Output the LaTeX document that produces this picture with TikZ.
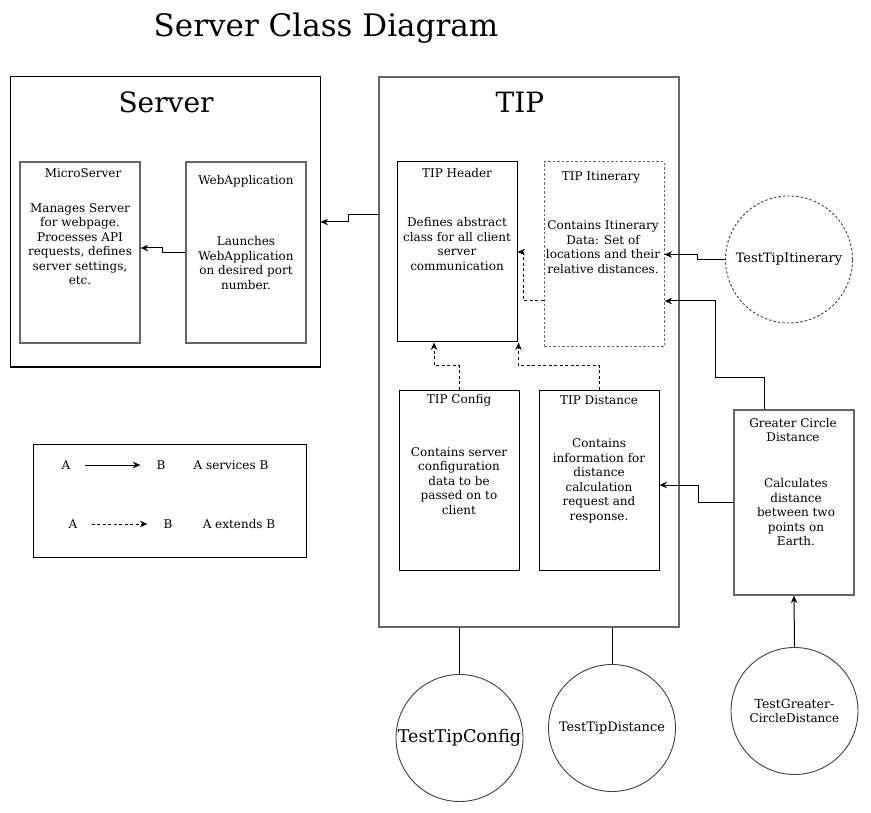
\documentclass[tikz,border=0pt]{standalone}
\usepackage{fontspec}
\setmainfont{DejaVu Serif}
\usetikzlibrary{arrows.meta,calc}
\begin{document}
\begin{tikzpicture}[x=1pt,y=-1pt,
  every node/.style={font=\fontsize{12}{14.5}\selectfont, inner sep=0pt},
  box/.style={draw=black, line width=1pt, minimum width=120pt},
  gbox/.style={draw=black!60, line width=1.2pt, minimum width=120pt},
  dbox/.style={draw=black!60, line width=1pt, dash pattern=on 2.5pt off 2pt, minimum width=120pt},
  circ/.style={draw=black!75, line width=0.9pt, circle, minimum size=127pt, align=center},
  body/.style={align=center, font=\fontsize{12}{14.5}\selectfont},
  bigt/.style={font=\fontsize{28}{33}\selectfont},
  arr/.style={line width=1pt, -{Stealth[length=7.5pt,width=6.5pt]}},
  darr/.style={line width=1pt, dash pattern=on 3pt off 2.5pt, -{Stealth[length=7.5pt,width=6.5pt]}},
  conn/.style={line width=1pt}]
\useasboundingbox (0,0) rectangle (871,813);
\fill[white] (0,0) rectangle (871,813);

% title
\node[font=\fontsize{31}{36}\selectfont] (title) at (326,28) {Server Class Diagram};

% Server group
\node[draw=black, line width=1pt, minimum width=310pt, minimum height=290pt] (server) at (165,222) {};
\node[bigt] (serverT) at (166,102) {Server};
\node[gbox, minimum height=181pt] (micro) at (80,252.5) {};
\node (microT) at (83,173) {MicroServer};
\node[body] (microB) at (80,244) {Manages Server\\for webpage.\\Processes API\\requests, defines\\server settings,\\etc.};
\node[gbox, minimum height=181pt] (web) at (246,252.5) {};
\node (webT) at (246,181) {WebApplication};
\node[body] (webB) at (246,263) {Launches\\WebApplication\\on desired port\\number.};

% TIP group
\node[draw=black!60, line width=1.2pt, minimum width=300pt, minimum height=550pt] (tip) at (529,352) {};
\node[bigt] (tipT) at (520,102) {TIP};
\node[box, minimum height=180pt] (header) at (457,252) {};
\node (headerT) at (457,173) {TIP Header};
\node[body] (headerB) at (457,244) {Defines abstract\\class for all client\\server\\communication};
\node[dbox, minimum height=185pt] (itin) at (604,254.5) {};
\node (itinT) at (601,177) {TIP Itinerary};
\node[body] (itinB) at (603,247) {Contains Itinerary\\Data: Set of\\locations and their\\relative distances.};
\node[box, minimum height=180pt] (config) at (459,480) {};
\node (configT) at (459,400) {TIP Config};
\node[body] (configB) at (459,481) {Contains server\\configuration\\data to be\\passed on to\\client};
\node[box, minimum height=180pt] (dist) at (599,480) {};
\node (distT) at (599,400) {TIP Distance};
\node[body] (distB) at (599,481) {Contains\\information for\\distance\\calculation\\request and\\response.};

% Greater circle distance
\node[gbox, minimum height=185pt] (gcd) at (794,502.5) {};
\node[body] (gcdT) at (793,430) {Greater Circle\\Distance};
\node[body] (gcdB) at (796,512.5) {Calculates\\distance\\between two\\points on\\Earth.};

% circles
\node[circ, dash pattern=on 2.5pt off 2pt] (tti) at (789,259.5) {\fontsize{13}{15}\selectfont TestTipItinerary};
\node[circ] (ttc) at (459.5,738) {\fontsize{17.5}{20}\selectfont TestTipConfig};
\node[circ] (ttd) at (612,728) {\fontsize{13}{15}\selectfont TestTipDistance};
\node[circ] (tgcd) at (794.5,711) {\fontsize{12.5}{14}\selectfont TestGreater-\\CircleDistance};

% legend
\node[draw=black, line width=1pt, minimum width=273pt, minimum height=113pt] (legend) at (169.5,500.5) {};
\node (la1) at (66,465) {A};
\node (lb1) at (161,465) {B};
\node (lt1) at (231,465) {A services B};
\node (la2) at (73,524) {A};
\node (lb2) at (168,524) {B};
\node (lt2) at (239,524) {A extends B};
\draw[arr] ([xshift=14pt]la1.east) -- ([xshift=-16pt]lb1.west);
\draw[darr] ([xshift=14pt]la2.east) -- ([xshift=-16pt]lb2.west);

% connectors
\draw[arr] ([yshift=137pt]tip.west) -- ++(-30,0) |- (server.east);
\draw[arr] (web.west) -- ++(-23,0) |- ([yshift=4.5pt]micro.east);
\draw[darr] ([yshift=-46.5pt]itin.west) -- ++(-20,0) |- (header.east);
\draw[darr] (config.north) -- ++(0,-24) -| ([xshift=-23pt]header.south);
\draw[darr] (dist.north) -- ++(0,-24) -| ([xshift=1pt]header.south east);
\draw[arr] ([xshift=-30pt]gcd.north) -- ++(0,-32) -- ++(-49,0) |- ([yshift=-46.5pt]itin.east);
\draw[arr] (gcd.west) -- ++(-35,0) |- ([yshift=-5pt]dist.east);
\draw[arr] (tti.west) -- ++(-28,0) |- (itin.east);
\draw[conn] (tip.south -| ttc.north) -- (ttc.north);
\draw[conn] (tip.south -| ttd.north) -- (ttd.north);
\draw[arr] (tgcd.north) -- (gcd.south);
\end{tikzpicture}
\end{document}
